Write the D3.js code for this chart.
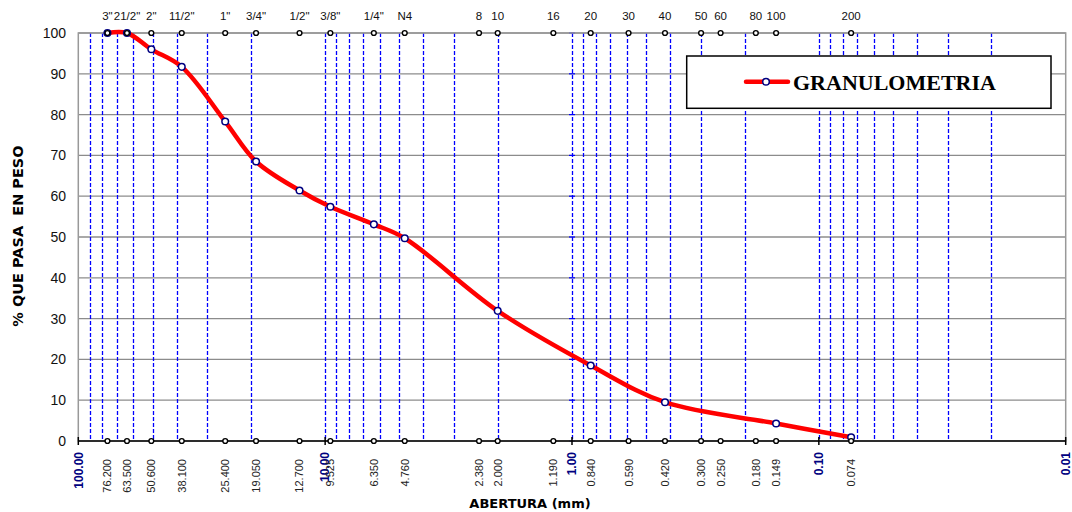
<!DOCTYPE html>
<html>
<head>
<meta charset="utf-8">
<script src="https://cdn.jsdelivr.net/npm/d3@7"></script>
<style>
  body { margin: 0; background: #fff; }
</style>
</head>
<body>
<div id="chart"></div>
<script>
// Sieve series (names on top, openings in mm at the bottom)
const sieveNames = ['3"', '21/2"', '2"', '11/2"', '1"', '3/4"', '1/2"', '3/8"', '1/4"', 'N4',
  '8', '10', '16', '20', '30', '40', '50', '60', '80', '100', '200'];
const sieveOpenings = [76.2, 63.5, 50.6, 38.1, 25.4, 19.05, 12.7, 9.525, 6.35, 4.76,
  2.38, 2.0, 1.19, 0.84, 0.59, 0.42, 0.3, 0.25, 0.18, 0.149, 0.074];
const openingLabels = ['76.200', '63.500', '50.600', '38.100', '25.400', '19.050', '12.700', '9.525',
  '6.350', '4.760', '2.380', '2.000', '1.190', '0.840', '0.590', '0.420', '0.300', '0.250',
  '0.180', '0.149', '0.074'];

// Grading curve
const sampleOpenings = [76.2, 63.5, 50.6, 38.1, 25.4, 19.05, 12.7, 9.525, 6.35, 4.76, 2.0, 0.84, 0.42, 0.149, 0.074];
const percentPassing = [100, 100, 96.0, 91.7, 78.3, 68.5, 61.4, 57.4, 53.1, 49.7, 31.9, 18.5, 9.5, 4.3, 0.9];

const yTicks = [0, 10, 20, 30, 40, 50, 60, 70, 80, 90, 100];
const decadeTicks = [100, 10, 1, 0.1, 0.01];
const seriesName = 'GRANULOMETRIA';

const W = 1072, H = 512;
const plotLeft = 78.3, plotRight = 1065.7, plotTop = 33, plotBottom = 441;

const svg = d3.select('#chart').append('svg')
  .attr('width', W).attr('height', H)
  .style('font-family', '"Liberation Sans", Arial, sans-serif');

const x = d3.scaleLog().domain([100, 0.01]).range([plotLeft, plotRight]);
const y = d3.scaleLinear().domain([0, 100]).range([plotBottom, plotTop]);

// horizontal grid
svg.append('g').selectAll('line').data(yTicks.slice(1)).enter().append('line')
  .attr('x1', plotLeft).attr('x2', plotRight)
  .attr('y1', d => y(d)).attr('y2', d => y(d))
  .attr('stroke', '#8c8c8c').attr('stroke-width', 1.3);

// log grid (blue dashed)
const minor = x.ticks().filter(d => d < 100 && d > 0.01);
svg.append('g').selectAll('line').data(minor).enter().append('line')
  .attr('x1', d => Math.round(x(d)) + 0.5).attr('x2', d => Math.round(x(d)) + 0.5)
  .attr('y1', plotTop).attr('y2', plotBottom)
  .attr('stroke', '#0000ff').attr('stroke-width', 1.3)
  .attr('stroke-dasharray', '4,2');

// small ticks on the 1.00 line
svg.append('g').selectAll('line').data(yTicks).enter().append('line')
  .attr('x1', x(1) - 3).attr('x2', x(1) + 3)
  .attr('y1', d => y(d)).attr('y2', d => y(d))
  .attr('stroke', '#0000ff').attr('stroke-width', 1.2);

// plot frame
svg.append('rect')
  .attr('x', plotLeft).attr('y', plotTop)
  .attr('width', plotRight - plotLeft).attr('height', plotBottom - plotTop)
  .attr('fill', 'none').attr('stroke', '#999').attr('stroke-width', 1.5);

// bottom axis
svg.append('line')
  .attr('x1', plotLeft).attr('x2', plotRight).attr('y1', plotBottom).attr('y2', plotBottom)
  .attr('stroke', '#000').attr('stroke-width', 1.5);
svg.append('g').selectAll('line').data(decadeTicks).enter().append('line')
  .attr('x1', d => x(d)).attr('x2', d => x(d))
  .attr('y1', plotBottom - 4).attr('y2', plotBottom + 4)
  .attr('stroke', '#000').attr('stroke-width', 1.5);

// y tick labels
svg.append('g').selectAll('text').data(yTicks).enter().append('text')
  .attr('x', 66).attr('y', d => y(d))
  .attr('dy', '0.35em')
  .attr('text-anchor', 'end')
  .style('font-size', '14px')
  .attr('fill', '#111')
  .text(d => d);

// decade labels (rotated, bold navy)
svg.append('g').selectAll('text').data(decadeTicks).enter().append('text')
  .attr('transform', d => `translate(${x(d)},452) rotate(-90)`)
  .attr('text-anchor', 'end')
  .attr('dy', '0.36em')
  .style('font-size', '12px').style('font-weight', 'bold')
  .attr('fill', '#000080')
  .text(d => d3.format('.2f')(d));

// opening labels (rotated)
svg.append('g').selectAll('text').data(sieveOpenings).enter().append('text')
  .attr('transform', d => `translate(${x(d)},459) rotate(-90)`)
  .attr('text-anchor', 'end')
  .attr('dy', '0.36em')
  .style('font-size', '11px')
  .attr('fill', '#222')
  .text((d, i) => openingLabels[i]);

// sieve names on top
svg.append('g').selectAll('text').data(sieveOpenings).enter().append('text')
  .attr('x', d => x(d)).attr('y', 20)
  .attr('text-anchor', 'middle')
  .style('font-size', '11.5px')
  .attr('fill', '#111')
  .text((d, i) => sieveNames[i]);

// grading curve
const pts = sampleOpenings.map((d, i) => [x(d), y(percentPassing[i])]);
svg.append('path')
  .attr('d', d3.line().curve(d3.curveCatmullRom.alpha(0.5))(pts))
  .attr('fill', 'none').attr('stroke', '#ff0000')
  .attr('stroke-width', 4.5).attr('stroke-linejoin', 'round');

svg.append('g').selectAll('circle').data(pts).enter().append('circle')
  .attr('cx', d => d[0]).attr('cy', d => d[1]).attr('r', 3.3)
  .attr('fill', '#fff').attr('stroke', '#000080').attr('stroke-width', 1.5);

// sieve markers top and bottom
[plotTop, plotBottom].forEach(yy => {
  svg.append('g').selectAll('circle').data(sieveOpenings).enter().append('circle')
    .attr('cx', d => x(d)).attr('cy', yy).attr('r', 2.4)
    .attr('fill', '#fff').attr('stroke', '#000').attr('stroke-width', 1.4);
});

// axis titles
svg.append('text')
  .attr('x', 530).attr('y', 508)
  .attr('text-anchor', 'middle')
  .style('font-family', '"DejaVu Sans", Verdana, sans-serif')
  .style('font-size', '13px').style('font-weight', 'bold')
  .text('ABERTURA (mm)');

svg.append('text')
  .attr('transform', 'translate(23,236) rotate(-90)')
  .attr('text-anchor', 'middle')
  .style('font-family', '"DejaVu Sans", Verdana, sans-serif')
  .style('font-size', '14.5px').style('font-weight', 'bold')
  .style('white-space', 'pre')
  .text('% QUE PASA  EN PESO');

// legend
const lg = svg.append('g');
lg.append('rect')
  .attr('x', 686.7).attr('y', 56).attr('width', 364.3).attr('height', 52.3)
  .attr('fill', '#fff').attr('stroke', '#000').attr('stroke-width', 1.5);
lg.append('line')
  .attr('x1', 746).attr('x2', 788).attr('y1', 81.7).attr('y2', 81.7)
  .attr('stroke', '#ff0000').attr('stroke-width', 4.5).attr('stroke-linecap', 'round');
lg.append('circle')
  .attr('cx', 766).attr('cy', 81.7).attr('r', 3.3)
  .attr('fill', '#fff').attr('stroke', '#000080').attr('stroke-width', 1.5);
lg.append('text')
  .attr('x', 793).attr('y', 90)
  .style('font-family', '"Liberation Serif", "Times New Roman", serif')
  .style('font-size', '22px').style('font-weight', 'bold')
  .text(seriesName);
</script>
</body>
</html>
